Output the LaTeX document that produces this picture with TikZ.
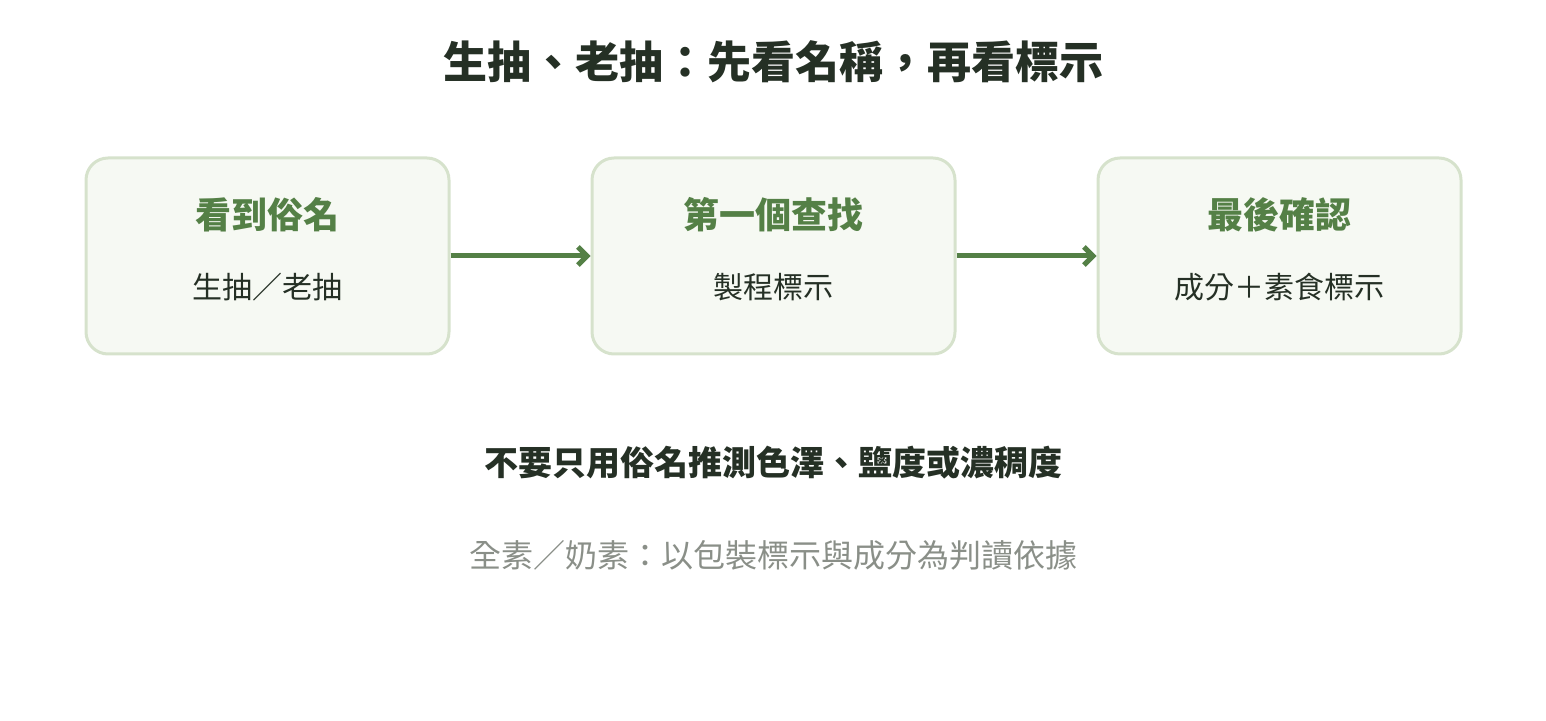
\documentclass[tikz,border=0pt]{standalone}
\usepackage{fontspec}
\setmainfont{Noto Sans CJK TC}
\usetikzlibrary{arrows.meta}
\definecolor{dark}{HTML}{253025}
\definecolor{green}{HTML}{548046}
\definecolor{boxfill}{HTML}{F6F9F3}
\definecolor{boxline}{HTML}{D6E2CC}
\definecolor{grey}{HTML}{8A8F88}
\begin{document}
\begin{tikzpicture}[x=1pt,y=1pt,
  box/.style={draw=boxline,line width=3pt,fill=boxfill,rounded corners=22pt,minimum width=363pt,minimum height=196pt},
  head/.style={text=green,font=\fontsize{36}{40}\selectfont\bfseries},
  sub/.style={text=dark,font=\fontsize{30}{34}\selectfont},
  arr/.style={draw=green,line width=5pt,-{Straight Barb[length=9pt,width=18pt]}}]
\useasboundingbox (0,0) rectangle (1546,720);
\node[text=dark,font=\fontsize{44}{48}\selectfont\bfseries] (t) at (773,658) {生抽、老抽：先看名稱，再看標示};
\node[box] (b1) at (267.5,464) {};
\node[box] (b2) at (773.5,464) {};
\node[box] (b3) at (1279.5,464) {};
\node[head] (h1) at (267.5,505) {看到俗名};
\node[head] (h2) at (773.5,505) {第一個查找};
\node[head] (h3) at (1279.5,505) {最後確認};
\node[sub] (s1) at (267.5,433) {生抽／老抽};
\node[sub] (s2) at (773.5,433) {製程標示};
\node[sub] (s3) at (1279.5,433) {成分＋素食標示};
\draw[arr] (b1.east) -- (b2.west);
\draw[arr] (b2.east) -- (b3.west);
\node[text=dark,font=\fontsize{34}{38}\selectfont\bfseries] (m) at (773,257) {不要只用俗名推測色澤、鹽度或濃稠度};
\node[text=grey,font=\fontsize{32}{36}\selectfont] (n) at (773,165) {全素／奶素：以包裝標示與成分為判讀依據};
\end{tikzpicture}
\end{document}
